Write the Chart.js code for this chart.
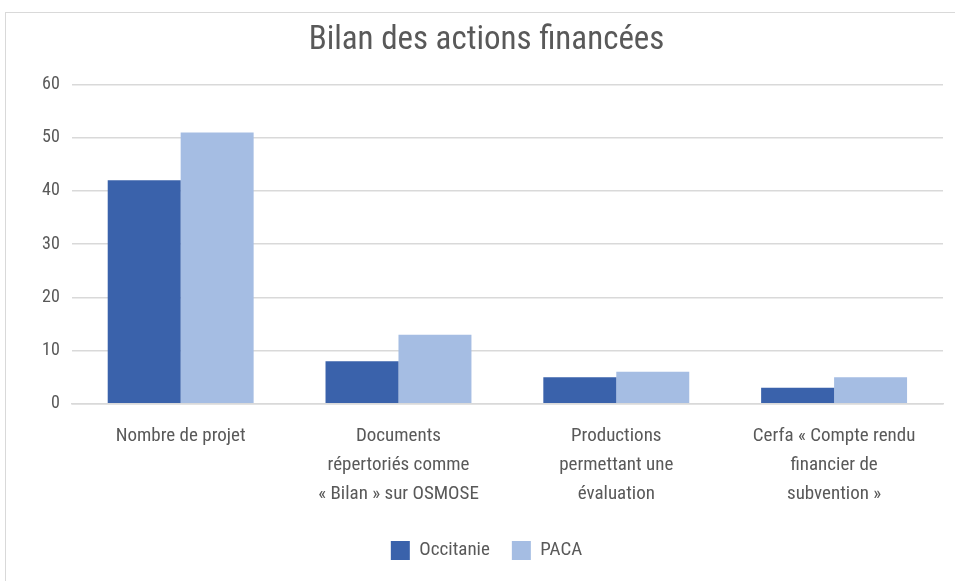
<!DOCTYPE html>
<html>
<head>
<meta charset="utf-8">
<script src="https://cdn.jsdelivr.net/npm/chart.js@4/dist/chart.umd.min.js"></script>
<style>
  body { margin: 0; background: #fff; }
  #box {
    position: absolute; left: 5px; top: 12px;
    width: 965px; height: 580px;
    border: 1px solid #d9d9d9; box-sizing: border-box;
  }
  canvas { display: block; }
</style>
</head>
<body>
<div id="box"><canvas id="chart" width="963" height="578"></canvas></div>
<script>
const categories = [
  'Nombre de projet',
  ['Documents', 'répertoriés comme', '« Bilan » sur OSMOSE'],
  ['Productions', 'permettant une', 'évaluation'],
  ['Cerfa « Compte rendu', 'financier de', 'subvention »']
];
const occitanie = [42, 8, 5, 3];
const paca = [51, 13, 6, 5];
const yTicks = [0, 10, 20, 30, 40, 50, 60];

const font = "'Liberation Sans Narrow', 'Roboto Condensed', 'Noto Sans', sans-serif";
const grey = '#595959';

const ctx = document.getElementById('chart');

new Chart(ctx, {
  type: 'bar',
  data: {
    labels: categories,
    datasets: [
      { label: 'Occitanie', data: occitanie, backgroundColor: '#3a62ab' },
      { label: 'PACA', data: paca, backgroundColor: '#a5bde3' }
    ]
  },
  options: {
    responsive: false,
    animation: false,
    layout: { padding: { left: 24, right: 26, top: 6, bottom: 21 } },
    datasets: {
      bar: { categoryPercentage: 0.67, barPercentage: 1 }
    },
    plugins: {
      title: {
        display: true,
        text: 'Bilan des actions financées',
        color: grey,
        font: { family: font, size: 33, weight: 'normal' },
        padding: { top: 2, bottom: 24 }
      },
      legend: {
        position: 'bottom',
        labels: {
          color: grey,
          font: { family: font, size: 19 },
          boxWidth: 19,
          boxHeight: 19,
          padding: 22
        }
      },
      tooltip: { enabled: false }
    },
    scales: {
      x: {
        grid: { display: false },
        border: { color: '#d9d9d9', width: 1.5 },
        ticks: {
          color: grey,
          font: { family: font, size: 19, lineHeight: 1.53 },
          maxRotation: 0,
          autoSkip: false,
          padding: 10
        }
      },
      y: {
        min: 0,
        max: 60,
        afterBuildTicks: axis => { axis.ticks = yTicks.map(v => ({ value: v })); },
        grid: { color: '#d9d9d9', lineWidth: 1.5, drawTicks: false },
        border: { display: false },
        ticks: {
          color: grey,
          font: { family: font, size: 18 },
          padding: 12
        }
      }
    }
  }
});
</script>
</body>
</html>
